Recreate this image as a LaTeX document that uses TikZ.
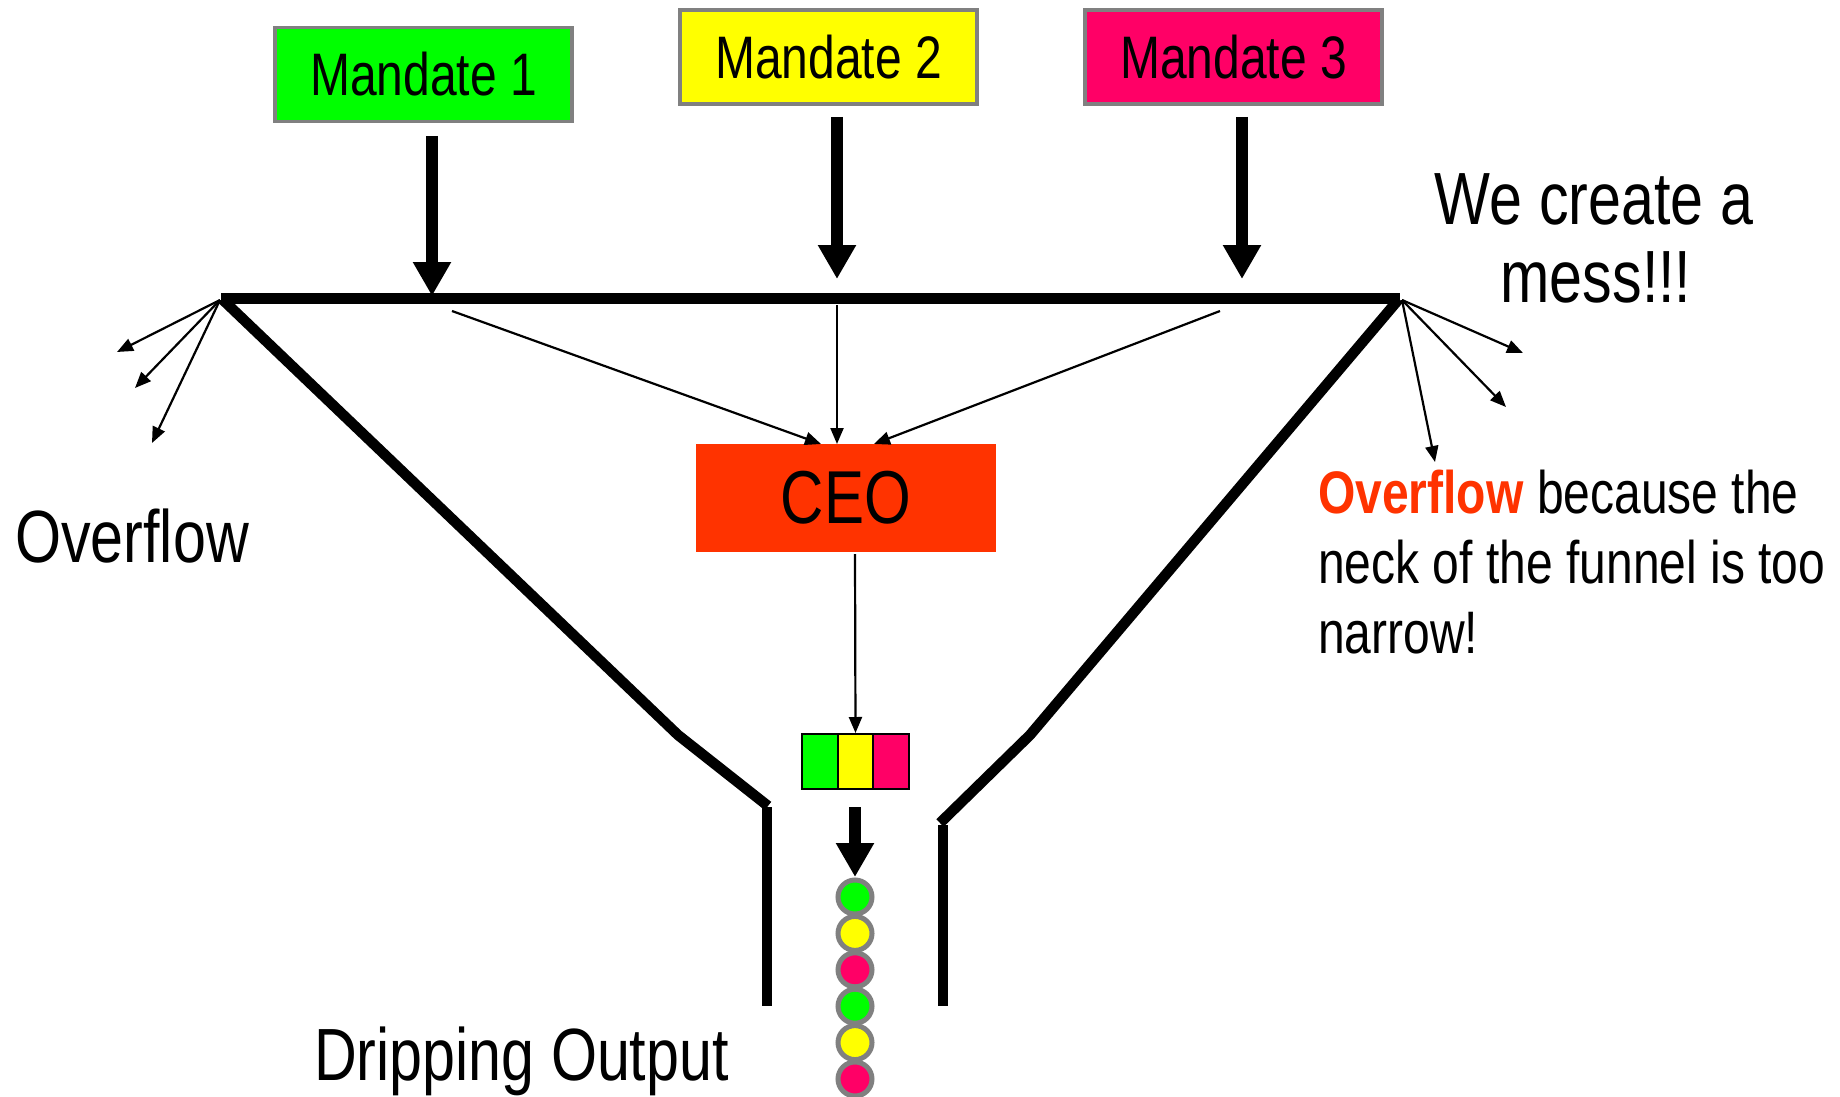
\documentclass[tikz,border=0pt]{standalone}
\usepackage{fontspec}
\setmainfont{Liberation Sans}[FakeStretch=0.8]
\usetikzlibrary{arrows.meta}
\definecolor{mgreen}{HTML}{00FF00}
\definecolor{myellow}{HTML}{FFFF00}
\definecolor{mpink}{HTML}{FF0066}
\definecolor{ceored}{HTML}{FF3300}
\definecolor{bordergray}{HTML}{808080}
\begin{document}
\begin{tikzpicture}[x=1pt,y=-1pt,
  mandate/.style={draw=bordergray, line width=3.5pt, minimum width=297pt, minimum height=94pt, inner sep=0pt, font=\fontsize{60}{70}\selectfont},
  ceobox/.style={fill=ceored, minimum width=300pt, minimum height=108pt, inner sep=0pt, font=\fontsize{75}{86}\selectfont},
  cell/.style={draw=black, line width=2pt, minimum width=35.3pt, minimum height=55pt, inner sep=0pt},
  drop/.style={circle, draw=bordergray, line width=5pt, minimum size=34pt, inner sep=0pt},
  bigtxt/.style={inner sep=0pt, font=\fontsize{74}{86}\selectfont},
  smalltxt/.style={inner sep=0pt, font=\fontsize{60}{70}\selectfont, anchor=base west},
  funnel/.style={line width=10.5pt},
  thickarrow/.style={line width=12pt, -{Triangle[length=34pt,width=36pt]}},
  thinarrow/.style={line width=2.2pt, -{Triangle[length=16pt,width=13pt]}}
]
\useasboundingbox (0,0) rectangle (1840,1097);
\fill[white] (0,0) rectangle (1840,1097);

% mandate boxes
\node[mandate, fill=mgreen] (m1) at (423.5,74.5) {Mandate 1};
\node[mandate, fill=myellow] (m2) at (828.5,57) {Mandate 2};
\node[mandate, fill=mpink] (m3) at (1233.5,57) {Mandate 3};

% funnel points
\coordinate (tl) at (221,298.5);
\coordinate (tr) at (1400,298.5);
\coordinate (lm) at (678,735);
\coordinate (le) at (768,806);
\coordinate (ltop) at (767,807);
\coordinate (lbot) at (767,1006);
\coordinate (rm) at (1030,735);
\coordinate (re) at (940,823);
\coordinate (rtop) at (943,825);
\coordinate (rbot) at (943,1006);

\draw[funnel] (tl) -- (tr);
\draw[funnel] (222,299) -- (lm) -- (le);
\draw[funnel] (1399,299) -- (rm) -- (re);
\draw[funnel] (ltop) -- (lbot);
\draw[funnel] (rtop) -- (rbot);

% thick arrows from mandates
\coordinate (a1s) at (432,136);
\coordinate (a1e) at (432,296);
\coordinate (a2s) at (837,117);
\coordinate (a2e) at (837,279);
\coordinate (a3s) at (1242,117);
\coordinate (a3e) at (1242,279);
\draw[thickarrow] (a1s) -- (a1e);
\draw[thickarrow] (a2s) -- (a2e);
\draw[thickarrow] (a3s) -- (a3e);

% CEO
\node[ceobox] (ceo) at (846,498) {CEO};
\coordinate (f1) at (452,311);
\coordinate (f2) at (837,305);
\coordinate (f3) at (1220,311);
\coordinate (c1in) at (821,444);
\coordinate (c2in) at (837,444);
\coordinate (c3in) at (874,444);
\draw[thinarrow] (f1) -- (c1in);
\draw[thinarrow] (f2) -- (c2in);
\draw[thinarrow] (f3) -- (c3in);

% tri-colour queue
\node[cell, fill=mgreen] (q1) at (820,761.5) {};
\node[cell, fill=myellow] (q2) at (855.5,761.5) {};
\node[cell, fill=mpink] (q3) at (891,761.5) {};
\coordinate (ceoout) at (855,554);
\draw[thinarrow] (ceoout) -- (q2.north);

% drops
\node[drop, fill=mgreen] (d1) at (855,897) {};
\node[drop, fill=myellow] (d2) at (855,933.4) {};
\node[drop, fill=mpink] (d3) at (855,969.8) {};
\node[drop, fill=mgreen] (d4) at (855,1006.2) {};
\node[drop, fill=myellow] (d5) at (855,1042.6) {};
\node[drop, fill=mpink] (d6) at (855,1079) {};
\coordinate (qout) at (855,807);
\draw[thickarrow] (qout) -- (855,877);

% overflow arrows
\coordinate (ol) at (220,300);
\coordinate (or) at (1402,300);
\draw[thinarrow] (ol) -- (117,352);
\draw[thinarrow] (ol) -- (135,388);
\draw[thinarrow] (ol) -- (152,443);
\draw[thinarrow] (or) -- (1523,353);
\draw[thinarrow] (or) -- (1506,407);
\draw[thinarrow] (or) -- (1435,462);

% texts
\node[bigtxt, anchor=base west] (ovl) at (15,562) {Overflow};
\node[bigtxt, anchor=base] (mess1) at (1594,224) {We create a};
\node[bigtxt, anchor=base] (mess2) at (1596,302) {mess!!!};
\node[smalltxt] (r1) at (1318,513) {\textcolor{ceored}{\textbf{Overflow}} because the};
\node[smalltxt] (r2) at (1318,583) {neck of the funnel is too};
\node[smalltxt] (r3) at (1318,653) {narrow!};
\node[bigtxt, anchor=base west] (drip) at (314,1080) {Dripping Output};
\end{tikzpicture}
\end{document}
